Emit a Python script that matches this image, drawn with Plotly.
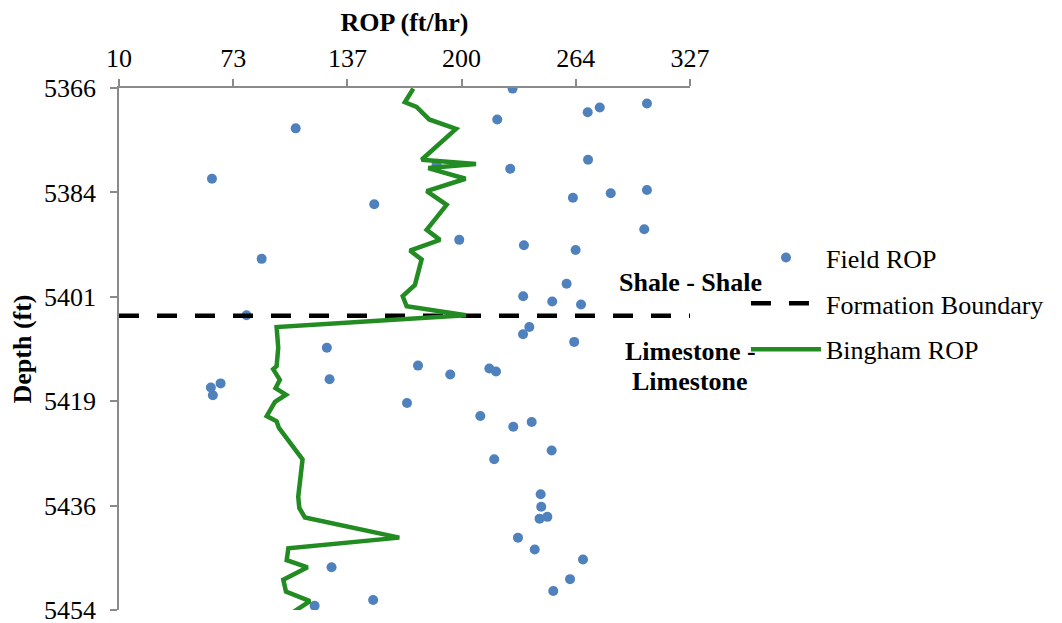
import plotly.graph_objects as go

# ---------------- data ----------------
field_rop = [228.5, 303.1, 276.9, 270.2, 220.0, 108.1, 270.4, 186.3, 227.2, 61.6,
             303.1, 283.0, 262.0, 151.7, 301.6, 198.9, 234.8, 263.5, 89.2, 258.5,
             234.4, 250.5, 266.5, 80.8, 237.8, 234.3, 262.7, 125.4, 176.0, 215.6,
             219.3, 193.9, 126.9, 66.4, 61.0, 62.1, 169.9, 210.6, 239.1, 228.9,
             250.2, 218.3, 244.1, 244.4, 247.8, 243.5, 231.5, 240.8, 267.6, 128.0,
             260.4, 251.1, 151.1, 118.6]
field_depth = [5366.1, 5368.6, 5369.3, 5370.1, 5371.3, 5372.8, 5378.1, 5378.9, 5379.6, 5381.3,
               5383.2, 5383.75, 5384.5, 5385.6, 5389.8, 5391.6, 5392.5, 5393.3, 5394.8, 5399.0,
               5401.1, 5402.0, 5402.5, 5404.3, 5406.3, 5407.5, 5408.8, 5409.8, 5412.8, 5413.3,
               5413.8, 5414.3, 5415.1, 5415.8, 5416.5, 5417.8, 5419.1, 5421.3, 5422.3, 5423.1,
               5427.1, 5428.6, 5434.5, 5436.6, 5438.3, 5438.6, 5441.8, 5443.8, 5445.5, 5446.8,
               5448.8, 5450.8, 5452.3, 5453.3]

bingham_rop = [173.4, 168.7, 175.2, 182.2, 197.1, 178.0, 208.2, 181.7, 202.4, 180.8,
               191.9, 180.8, 188.2, 171.5, 178.0, 174.3, 167.5, 169.7, 202.6, 97.5,
               98.4, 97.5, 95.6, 99.3, 96.9, 102.7, 96.6, 92.0, 97.5, 98.8,
               111.9, 109.5, 110.1, 113.2, 165.6, 104.0, 103.1, 114.7, 101.2, 102.7,
               116.0, 106.0]
bingham_depth = [5366.1, 5368.4, 5369.2, 5371.3, 5372.9, 5378.1, 5378.8, 5379.5, 5381.3, 5383.4,
                 5385.7, 5389.9, 5391.6, 5393.4, 5394.9, 5399.2, 5401.1, 5402.8, 5404.3, 5406.3,
                 5409.8, 5412.9, 5413.4, 5415.2, 5416.6, 5417.7, 5418.9, 5421.3, 5422.2, 5423.3,
                 5428.6, 5434.9, 5436.8, 5438.4, 5441.8, 5443.6, 5445.6, 5446.8, 5448.9, 5450.9,
                 5452.5, 5454.5]

boundary_rop = [10, 327]
boundary_depth = [5404.4, 5404.4]

x_tickvals = [10, 73.4, 136.8, 200.2, 263.6, 327]
x_ticktext = ["10", "73", "137", "200", "264", "327"]
y_tickvals = [5366, 5383.6, 5401.2, 5418.8, 5436.4, 5454]
y_ticktext = ["5366", "5384", "5401", "5419", "5436", "5454"]

FONT = "Liberation Serif, Times New Roman, serif"
AXIS_GRAY = "#8a8a8a"

fig = go.Figure()
fig.add_trace(go.Scatter(
    x=field_rop, y=field_depth, mode="markers", name="Field ROP", legendgroup="a",
    marker=dict(color="#4F81BD", size=10, line=dict(width=0)),
))
fig.add_trace(go.Scatter(
    x=boundary_rop, y=boundary_depth, mode="lines", name="Formation Boundary", legendgroup="b",
    line=dict(color="black", width=4.5, dash="20px,18px"),
))
fig.add_trace(go.Scatter(
    x=bingham_rop, y=bingham_depth, mode="lines", name="Bingham ROP", legendgroup="c",
    line=dict(color="#228B22", width=4.5),
))

# the page body adds an 8px offset, so the figure is sized/margined to compensate
fig.update_layout(
    width=1054, height=615,
    paper_bgcolor="white", plot_bgcolor="white",
    margin=dict(l=111, r=372, t=80, b=13),
    font=dict(family=FONT, size=26, color="black"),
    showlegend=True,
    legend=dict(
        x=1.098, xanchor="left", y=0.72, yanchor="top",
        font=dict(family=FONT, size=26, color="black"),
        itemwidth=70, bgcolor="rgba(0,0,0,0)", tracegroupgap=9,
    ),
    xaxis=dict(
        side="top", range=[10, 327], tickvals=x_tickvals, ticktext=x_ticktext,
        showgrid=False, zeroline=False, showline=True, linecolor=AXIS_GRAY, linewidth=1.5,
        ticks="outside", ticklen=7, tickcolor=AXIS_GRAY, tickwidth=1.5,
        tickfont=dict(family=FONT, size=26), ticklabelstandoff=2, automargin=False,
        ticklabeloverflow="allow",
        title=dict(text="<b>ROP (ft/hr)</b>", font=dict(family=FONT, size=26), standoff=8),
    ),
    yaxis=dict(
        range=[5454, 5366], tickvals=y_tickvals, ticktext=y_ticktext,
        showgrid=False, zeroline=False, showline=True, linecolor=AXIS_GRAY, linewidth=1.5,
        ticks="outside", ticklen=7, tickcolor=AXIS_GRAY, tickwidth=1.5,
        tickfont=dict(family=FONT, size=26), ticklabelstandoff=9, automargin=False,
        ticklabeloverflow="allow",
        title=dict(text="<b>Depth (ft)</b>", font=dict(family=FONT, size=26), standoff=6),
    ),
    annotations=[
        dict(text="<b>Shale - Shale</b>", xref="paper", yref="paper", x=1.0, y=0.627,
             showarrow=False, font=dict(family=FONT, size=26), xanchor="center", yanchor="middle"),
        dict(text="<b>Limestone -</b>", xref="paper", yref="paper", x=1.0, y=0.4948,
             showarrow=False, font=dict(family=FONT, size=26), xanchor="center", yanchor="middle"),
        dict(text="<b>Limestone</b>", xref="paper", yref="paper", x=1.0, y=0.4374,
             showarrow=False, font=dict(family=FONT, size=26), xanchor="center", yanchor="middle"),
    ],
)

fig.write_html("out.html")
